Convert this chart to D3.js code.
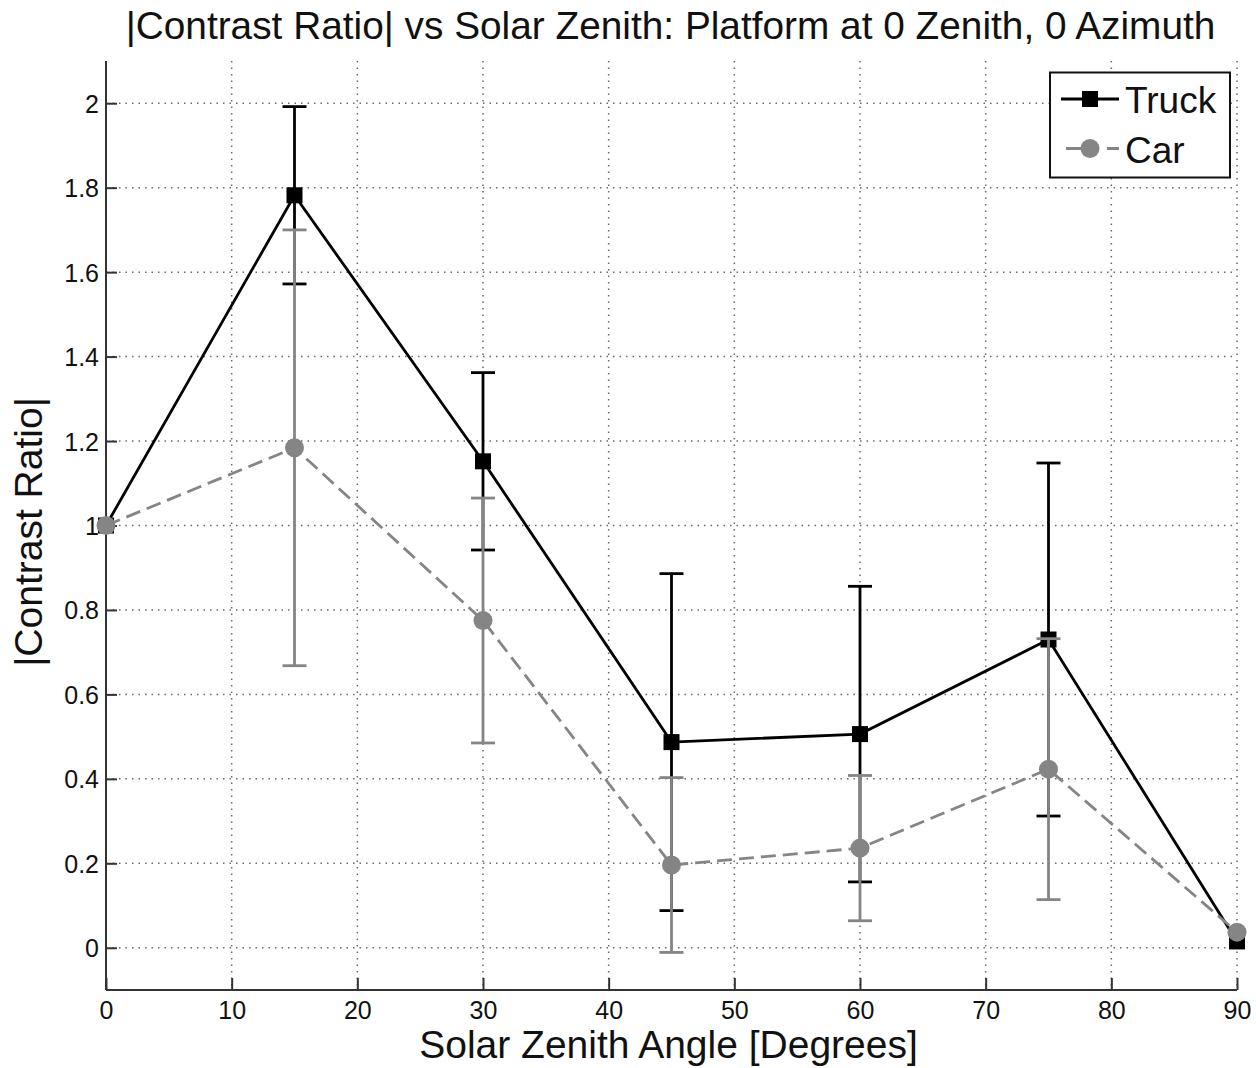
<!DOCTYPE html>
<html>
<head>
<meta charset="utf-8">
<script src="https://cdn.jsdelivr.net/npm/d3@7"></script>
<style>
  html, body { margin: 0; padding: 0; background: #fff; }
  svg { display: block; font-family: "Liberation Sans", Arial, Helvetica, sans-serif; }
</style>
</head>
<body>
<svg id="chart" width="1256" height="1068"></svg>
<script>
// Solar zenith angles (degrees) at which the contrast ratio was measured
const angles = [0, 15, 30, 45, 60, 75, 90];

// |Contrast ratio| means and error-bar half widths
const truckValues = [1.0, 1.782, 1.152, 0.487, 0.506, 0.730, 0.015];
const truckErrors = [0, 0.21, 0.21, 0.399, 0.35, 0.418, 0];
const carValues   = [1.0, 1.184, 0.775, 0.196, 0.236, 0.423, 0.037];
const carErrors   = [0, 0.516, 0.29, 0.207, 0.172, 0.309, 0];

const xTicks = [0, 10, 20, 30, 40, 50, 60, 70, 80, 90];
const yTicks = [0, 0.2, 0.4, 0.6, 0.8, 1, 1.2, 1.4, 1.6, 1.8, 2];
const seriesNames = ["Truck", "Car"];

const titleText = "|Contrast Ratio| vs Solar Zenith: Platform at 0 Zenith, 0 Azimuth";
const xLabelText = "Solar Zenith Angle [Degrees]";
const yLabelText = "|Contrast Ratio|";

const svg = d3.select("#chart");
const plot = { left: 106, right: 1237, top: 61, bottom: 990 };

const x = d3.scaleLinear().domain([0, 90]).range([plot.left, plot.right]);
const y = d3.scaleLinear().domain([-0.1, 2.1]).range([plot.bottom, plot.top]);

const GRID = "#6a6a6a";
const GRAY = "#858585";
const LW = 2.8;

// dotted grid
const grid = svg.append("g");
grid.selectAll("line.gx").data(xTicks.filter(d => d > 0)).join("line")
  .attr("x1", d => x(d)).attr("x2", d => x(d))
  .attr("y1", plot.top).attr("y2", plot.bottom)
  .attr("stroke", GRID).attr("stroke-width", 1.5)
  .attr("stroke-dasharray", "1.5,5");
grid.selectAll("line.gy").data(yTicks).join("line")
  .attr("x1", plot.left).attr("x2", plot.right)
  .attr("y1", d => y(d)).attr("y2", d => y(d))
  .attr("stroke", GRID).attr("stroke-width", 1.5)
  .attr("stroke-dasharray", "1.5,5");

// axes with inward ticks
const xAxis = d3.axisBottom(x).tickValues(xTicks).tickSizeInner(-12).tickSizeOuter(0)
  .tickFormat(d3.format("d"));
const yAxis = d3.axisLeft(y).tickValues(yTicks).tickSizeInner(-11).tickSizeOuter(0)
  .tickFormat(d => String(+d.toFixed(1)));

const gx = svg.append("g").attr("transform", `translate(0,${plot.bottom})`).call(xAxis);
const gy = svg.append("g").attr("transform", `translate(${plot.left},0)`).call(yAxis);
[gx, gy].forEach(g => {
  g.select(".domain").attr("stroke", "#333").attr("stroke-width", 2);
  g.selectAll(".tick line").attr("stroke", "#333").attr("stroke-width", 2);
  g.selectAll(".tick text").attr("fill", "#111").style("font-size", "25px")
    .style("font-family", "'Liberation Sans', Arial, sans-serif");
});
gx.select(".domain").attr("d", `M${plot.left},0H${plot.right}`);
gy.select(".domain").attr("d", `M0,${plot.bottom}V${plot.top}`);
gx.selectAll(".tick text").attr("dy", 0).attr("y", 29);
gy.selectAll(".tick text").attr("dy", "0.36em").attr("x", -7);

// title and axis labels
svg.append("text").attr("x", (plot.left + plot.right) / 2 - 1).attr("y", 39)
  .attr("text-anchor", "middle").style("font-size", "38.8px").attr("fill", "#111")
  .text(titleText);
svg.append("text").attr("x", (plot.left + plot.right) / 2 - 3).attr("y", 1058)
  .attr("text-anchor", "middle").style("font-size", "39px").attr("fill", "#111")
  .text(xLabelText);
svg.append("text").attr("transform", "translate(42,532) rotate(-90)")
  .attr("text-anchor", "middle").style("font-size", "39px").attr("fill", "#111")
  .text(yLabelText);

const truckData = angles.map((a, i) => ({ a, v: truckValues[i], e: truckErrors[i] }));
const carData = angles.map((a, i) => ({ a, v: carValues[i], e: carErrors[i] }));
const line = d3.line().x(d => x(d.a)).y(d => y(d.v));
const capHalf = 12;

function drawSeries(data, color, dash, marker) {
  const g = svg.append("g");
  const bars = data.filter(d => d.e > 0);
  g.selectAll("line.bar").data(bars).join("line")
    .attr("x1", d => x(d.a)).attr("x2", d => x(d.a))
    .attr("y1", d => y(d.v + d.e)).attr("y2", d => y(d.v - d.e))
    .attr("stroke", color).attr("stroke-width", LW);
  [1, -1].forEach(s => {
    g.selectAll(null).data(bars).join("line")
      .attr("x1", d => x(d.a) - capHalf).attr("x2", d => x(d.a) + capHalf)
      .attr("y1", d => y(d.v + s * d.e)).attr("y2", d => y(d.v + s * d.e))
      .attr("stroke", color).attr("stroke-width", LW);
  });
  g.append("path").datum(data).attr("d", line)
    .attr("fill", "none").attr("stroke", color).attr("stroke-width", LW)
    .attr("stroke-dasharray", dash);
  if (marker === "square") {
    g.selectAll("rect").data(data).join("rect")
      .attr("x", d => x(d.a) - 8).attr("y", d => y(d.v) - 8)
      .attr("width", 16).attr("height", 16).attr("fill", color);
  } else {
    g.selectAll("circle").data(data).join("circle")
      .attr("cx", d => x(d.a)).attr("cy", d => y(d.v)).attr("r", 9.5)
      .attr("fill", color);
  }
}

drawSeries(truckData, "#000", null, "square");
drawSeries(carData, GRAY, "15,7", "circle");

// legend
const lg = svg.append("g");
lg.append("rect").attr("x", 1050).attr("y", 72.5).attr("width", 180).attr("height", 105)
  .attr("fill", "#fff").attr("stroke", "#111").attr("stroke-width", 2);
lg.append("line").attr("x1", 1061).attr("x2", 1119).attr("y1", 99).attr("y2", 99)
  .attr("stroke", "#000").attr("stroke-width", LW);
lg.append("rect").attr("x", 1082).attr("y", 91).attr("width", 16).attr("height", 16).attr("fill", "#000");
lg.append("line").attr("x1", 1066).attr("x2", 1119).attr("y1", 148.5).attr("y2", 148.5)
  .attr("stroke", GRAY).attr("stroke-width", LW).attr("stroke-dasharray", "17,24,12");
lg.append("circle").attr("cx", 1090).attr("cy", 148.5).attr("r", 9.5).attr("fill", GRAY);
lg.selectAll("text").data(seriesNames).join("text")
  .attr("x", 1125).attr("y", (d, i) => 113 + i * 50)
  .style("font-size", "37px").attr("fill", "#111").text(d => d);
</script>
</body>
</html>
